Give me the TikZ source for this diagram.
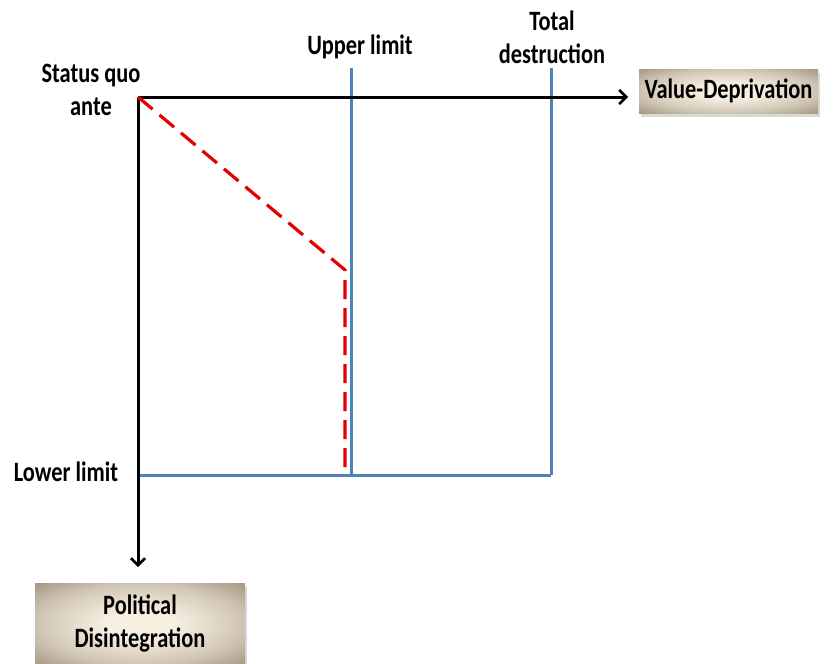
\documentclass[tikz,border=0pt]{standalone}
\usepackage{fontspec}
\setmainfont{Carlito}
\newfontfamily\lblfont[FakeStretch=0.8]{Carlito}
\usetikzlibrary{arrows.meta,shadows}
\definecolor{axisblue}{HTML}{4F81BD}
\definecolor{tanout}{HTML}{8C7A66}
\definecolor{tanin}{HTML}{F7F0E2}
\pgfdeclareradialshading{tanshade}{\pgfpoint{0bp}{0bp}}{%
  color(0bp)=(tanin); color(8bp)=(tanin); color(24bp)=(tanin!65!tanout);
  color(38bp)=(tanout!85!tanin); color(50bp)=(tanout)}
\tikzset{
  lbl/.style={font=\lblfont\bfseries\fontsize{28}{33}\selectfont, align=center, inner sep=0pt},
  axis/.style={draw=black, line width=3pt, -{Straight Barb[length=7pt,width=14pt,line width=2.6pt]}},
  limit/.style={draw=axisblue, line width=3pt},
  path/.style={draw=red!90!black, line width=3.2pt, dash pattern=on 19pt off 9pt},
  tanbox/.style={shading=tanshade, draw=none,
     drop shadow={shadow xshift=2pt, shadow yshift=-4pt, opacity=0.3},
     font=\lblfont\bfseries\fontsize{28}{33}\selectfont, align=center, inner sep=0pt}
}
\begin{document}
\begin{tikzpicture}[x=1pt,y=-1pt]
\useasboundingbox (0,0) rectangle (833,664);
% coordinates
\coordinate (o) at (138,97);
\coordinate (xend) at (628,97);
\coordinate (yend) at (138,567);
\coordinate (ut) at (351,68);
\coordinate (ub) at (351,475);
\coordinate (tt) at (551,68);
\coordinate (tb) at (551,475);
\coordinate (ll) at (138,475);
\coordinate (bend) at (345,270);
\coordinate (rend) at (345,475);
% limits
\draw[limit] (ut) -- (ub);
\draw[limit] (tt) -- (tb);
\draw[limit] (ll) -- (tb);
% axes
\draw[axis] (o) -- (xend);
\draw[axis] (o) -- (yend);
% red path
\draw[path] (o) -- (bend) -- (rend);
% labels
\node[lbl] (sq) at (91,90) {Status quo\\ante};
\node[lbl] (ul) at (360,47) {Upper limit};
\node[lbl] (td) at (552,37) {Total\\destruction};
\node[lbl] (lw) at (66,472) {Lower limit};
% boxes
\node[tanbox, minimum width=179pt, minimum height=44pt] (vd) at (728.5,91) {Value-Deprivation};
\node[tanbox, minimum width=210pt, minimum height=82pt] (pd) at (140,624) {Political\\Disintegration};
\end{tikzpicture}
\end{document}
